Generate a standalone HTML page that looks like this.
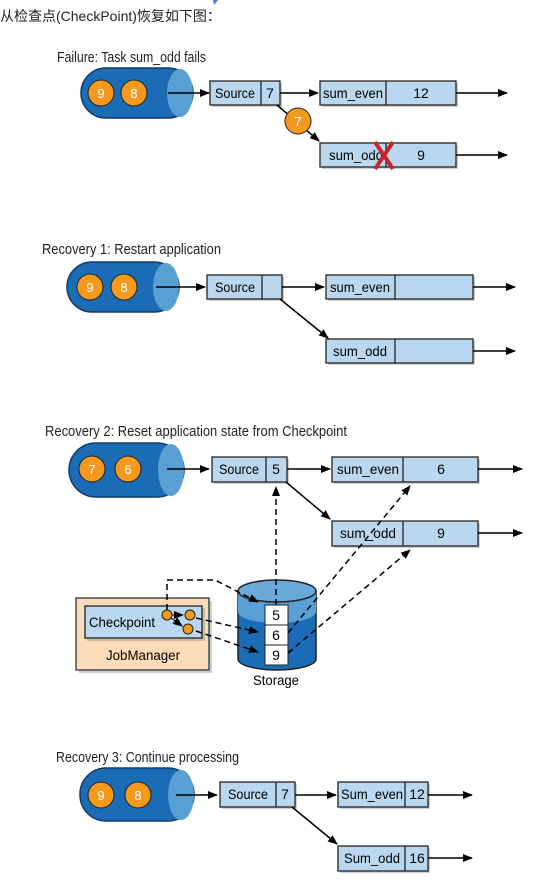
<!DOCTYPE html>
<html><head><meta charset="utf-8"><style>
html,body{margin:0;padding:0;background:#fff;}
svg{display:block;}
text{font-family:"Liberation Sans","Noto Sans CJK SC",sans-serif;}
</style></head><body>
<svg width="537" height="895" viewBox="0 0 537 895" xmlns="http://www.w3.org/2000/svg">
<defs>
<marker id="ar" markerWidth="10" markerHeight="8" refX="9" refY="4" orient="auto" markerUnits="userSpaceOnUse"><path d="M0,0 L10,4 L0,8 z" fill="#000"/></marker>
</defs>
<text x="0" y="21" font-size="14" fill="#222">从检查点(CheckPoint)恢复如下图：</text>
<path d="M213,0 L218,0 L214,5z" fill="#4a7fd0"/>

<!-- Section 1 -->
<text x="57" y="62" font-size="15" fill="#222" textLength="149" lengthAdjust="spacingAndGlyphs">Failure: Task sum_odd fails</text>
<rect x="81" y="68" width="112" height="50" rx="25" fill="#1a6cb6" stroke="#163a66" stroke-width="1.5"/>
<ellipse cx="180" cy="93" rx="13" ry="24" fill="#5a9fd4"/>
<circle cx="101" cy="93" r="13" fill="#f39a1e" stroke="#222"/><text x="101" y="98" font-size="13" fill="#fff" text-anchor="middle">9</text>
<circle cx="134" cy="93" r="13" fill="#f39a1e" stroke="#222"/><text x="134" y="98" font-size="13" fill="#fff" text-anchor="middle">8</text>
<line x1="168" y1="93" x2="209" y2="93" stroke="#000" stroke-width="1.5" marker-end="url(#ar)"/>
<rect x="212" y="83" width="70" height="24" fill="#888" opacity=".4"/>
<rect x="210" y="81" width="70" height="24" fill="#b9d8ef" stroke="#222" stroke-width="1.3"/>
<line x1="261" y1="81" x2="261" y2="105" stroke="#222" stroke-width="1.3"/>
<text x="235" y="98" font-size="14" text-anchor="middle" textLength="40" lengthAdjust="spacingAndGlyphs">Source</text><text x="270" y="98" font-size="14" text-anchor="middle">7</text>
<line x1="280" y1="93" x2="318" y2="93" stroke="#000" stroke-width="1.5" marker-end="url(#ar)"/>
<rect x="322" y="83" width="136" height="24" fill="#888" opacity=".4"/>
<rect x="320" y="81" width="136" height="24" fill="#b9d8ef" stroke="#222" stroke-width="1.3"/>
<line x1="386" y1="81" x2="386" y2="105" stroke="#222" stroke-width="1.3"/>
<text x="353" y="98" font-size="14" text-anchor="middle" textLength="60" lengthAdjust="spacingAndGlyphs">sum_even</text><text x="421" y="98" font-size="14" text-anchor="middle">12</text>
<line x1="456" y1="93" x2="507" y2="93" stroke="#000" stroke-width="1.5" marker-end="url(#ar)"/>
<line x1="277" y1="105" x2="319" y2="141" stroke="#000" stroke-width="1.5" marker-end="url(#ar)"/>
<circle cx="298" cy="121" r="13" fill="#f39a1e" stroke="#222"/><text x="298" y="126" font-size="13" fill="#fff" text-anchor="middle">7</text>
<rect x="322" y="145" width="136" height="24" fill="#888" opacity=".4"/>
<rect x="320" y="143" width="136" height="24" fill="#b9d8ef" stroke="#222" stroke-width="1.3"/>
<line x1="386" y1="143" x2="386" y2="167" stroke="#222" stroke-width="1.3"/>
<text x="356" y="160" font-size="14" text-anchor="middle" textLength="54" lengthAdjust="spacingAndGlyphs">sum_odd</text><text x="421" y="160" font-size="14" text-anchor="middle">9</text>
<path d="M375,142 L393,169 M393,142 L375,169" stroke="#c8262c" stroke-width="4"/>
<line x1="456" y1="155" x2="507" y2="155" stroke="#000" stroke-width="1.5" marker-end="url(#ar)"/>

<!-- Section 2 -->
<text x="42" y="254" font-size="15" fill="#222" textLength="179" lengthAdjust="spacingAndGlyphs">Recovery 1: Restart application</text>
<rect x="67" y="262" width="112" height="50" rx="25" fill="#1a6cb6" stroke="#163a66" stroke-width="1.5"/>
<ellipse cx="166" cy="287" rx="13" ry="24" fill="#5a9fd4"/>
<circle cx="90" cy="287" r="13" fill="#f39a1e" stroke="#222"/><text x="90" y="292" font-size="13" fill="#fff" text-anchor="middle">9</text>
<circle cx="124" cy="287" r="13" fill="#f39a1e" stroke="#222"/><text x="124" y="292" font-size="13" fill="#fff" text-anchor="middle">8</text>
<line x1="156" y1="287" x2="205" y2="287" stroke="#000" stroke-width="1.5" marker-end="url(#ar)"/>
<rect x="209" y="277" width="75" height="24" fill="#888" opacity=".4"/>
<rect x="207" y="275" width="75" height="24" fill="#b9d8ef" stroke="#222" stroke-width="1.3"/>
<line x1="262" y1="275" x2="262" y2="299" stroke="#222" stroke-width="1.3"/>
<text x="235" y="292" font-size="14" text-anchor="middle" textLength="40" lengthAdjust="spacingAndGlyphs">Source</text>
<line x1="282" y1="287" x2="324" y2="287" stroke="#000" stroke-width="1.5" marker-end="url(#ar)"/>
<rect x="328" y="277" width="147" height="24" fill="#888" opacity=".4"/>
<rect x="326" y="275" width="147" height="24" fill="#b9d8ef" stroke="#222" stroke-width="1.3"/>
<line x1="395" y1="275" x2="395" y2="299" stroke="#222" stroke-width="1.3"/>
<text x="360" y="292" font-size="14" text-anchor="middle" textLength="60" lengthAdjust="spacingAndGlyphs">sum_even</text>
<line x1="473" y1="287" x2="515" y2="287" stroke="#000" stroke-width="1.5" marker-end="url(#ar)"/>
<line x1="280" y1="299" x2="328" y2="338" stroke="#000" stroke-width="1.5" marker-end="url(#ar)"/>
<rect x="328" y="341" width="147" height="24" fill="#888" opacity=".4"/>
<rect x="326" y="339" width="147" height="24" fill="#b9d8ef" stroke="#222" stroke-width="1.3"/>
<line x1="395" y1="339" x2="395" y2="363" stroke="#222" stroke-width="1.3"/>
<text x="360" y="356" font-size="14" text-anchor="middle" textLength="54" lengthAdjust="spacingAndGlyphs">sum_odd</text>
<line x1="473" y1="351" x2="515" y2="351" stroke="#000" stroke-width="1.5" marker-end="url(#ar)"/>

<!-- Section 3 -->
<text x="45" y="436" font-size="15" fill="#222" textLength="302" lengthAdjust="spacingAndGlyphs">Recovery 2: Reset application state from Checkpoint</text>
<rect x="69" y="443" width="115" height="54" rx="27" fill="#1a6cb6" stroke="#163a66" stroke-width="1.5"/>
<ellipse cx="171" cy="470" rx="13" ry="26" fill="#5a9fd4"/>
<circle cx="92" cy="469" r="13" fill="#f39a1e" stroke="#222"/><text x="92" y="474" font-size="13" fill="#fff" text-anchor="middle">7</text>
<circle cx="128" cy="469" r="13" fill="#f39a1e" stroke="#222"/><text x="128" y="474" font-size="13" fill="#fff" text-anchor="middle">6</text>
<line x1="167" y1="469" x2="209" y2="469" stroke="#000" stroke-width="1.5" marker-end="url(#ar)"/>
<rect x="214" y="459" width="75" height="25" fill="#888" opacity=".4"/>
<rect x="212" y="457" width="75" height="25" fill="#b9d8ef" stroke="#222" stroke-width="1.3"/>
<line x1="266" y1="457" x2="266" y2="482" stroke="#222" stroke-width="1.3"/>
<text x="239" y="474" font-size="14" text-anchor="middle" textLength="40" lengthAdjust="spacingAndGlyphs">Source</text><text x="276" y="474" font-size="14" text-anchor="middle">5</text>
<line x1="287" y1="469" x2="330" y2="469" stroke="#000" stroke-width="1.5" marker-end="url(#ar)"/>
<rect x="334" y="459" width="146" height="25" fill="#888" opacity=".4"/>
<rect x="332" y="457" width="146" height="25" fill="#b9d8ef" stroke="#222" stroke-width="1.3"/>
<line x1="403" y1="457" x2="403" y2="482" stroke="#222" stroke-width="1.3"/>
<text x="368" y="474" font-size="14" text-anchor="middle" textLength="62" lengthAdjust="spacingAndGlyphs">sum_even</text><text x="441" y="474" font-size="14" text-anchor="middle">6</text>
<line x1="478" y1="469" x2="522" y2="469" stroke="#000" stroke-width="1.5" marker-end="url(#ar)"/>
<line x1="286" y1="482" x2="330" y2="519" stroke="#000" stroke-width="1.5" marker-end="url(#ar)"/>
<rect x="334" y="523" width="146" height="25" fill="#888" opacity=".4"/>
<rect x="332" y="521" width="146" height="25" fill="#b9d8ef" stroke="#222" stroke-width="1.3"/>
<line x1="403" y1="521" x2="403" y2="546" stroke="#222" stroke-width="1.3"/>
<text x="368" y="538" font-size="14" text-anchor="middle" textLength="56" lengthAdjust="spacingAndGlyphs">sum_odd</text><text x="441" y="538" font-size="14" text-anchor="middle">9</text>
<line x1="478" y1="533" x2="522" y2="533" stroke="#000" stroke-width="1.5" marker-end="url(#ar)"/>

<!-- storage -->
<path d="M238,591 L238,659 A39 11 0 0 0 316 659 L316,591" fill="#1a6cb6" stroke="#222" stroke-width="1.5"/>
<path d="M238,591 L238,612 A39 11 0 0 0 316 612 L316,591" fill="#5a9fd4"/>
<ellipse cx="277" cy="591" rx="39" ry="11" fill="#6aaadb" stroke="#222" stroke-width="1.5"/>
<rect x="265" y="605" width="23" height="20" fill="#fff" stroke="#222"/>
<rect x="265" y="625" width="23" height="20" fill="#fff" stroke="#222"/>
<rect x="265" y="645" width="23" height="20" fill="#fff" stroke="#222"/>
<text x="276" y="620" font-size="14" text-anchor="middle">5</text>
<text x="276" y="640" font-size="14" text-anchor="middle">6</text>
<text x="276" y="660" font-size="14" text-anchor="middle">9</text>
<text x="276" y="685" font-size="14" text-anchor="middle" textLength="46" lengthAdjust="spacingAndGlyphs">Storage</text>

<!-- jobmanager -->
<rect x="79" y="601" width="133" height="72" fill="#888" opacity=".4"/>
<rect x="76" y="598" width="133" height="72" fill="#fbdcb8" stroke="#333" stroke-width="1.3"/>
<rect x="87" y="608" width="118" height="33" fill="#888" opacity=".4"/>
<rect x="85" y="606" width="117" height="32" fill="#b9d8ef" stroke="#222" stroke-width="1.3"/>
<text x="122" y="627" font-size="14" text-anchor="middle" textLength="66" lengthAdjust="spacingAndGlyphs">Checkpoint</text>
<text x="143" y="660" font-size="14" text-anchor="middle" textLength="74" lengthAdjust="spacingAndGlyphs">JobManager</text>
<line x1="171" y1="615" x2="183" y2="615" stroke="#000" marker-end="url(#ar)"/>
<line x1="170" y1="617" x2="182" y2="626" stroke="#000" marker-end="url(#ar)"/>
<circle cx="167" cy="615" r="5" fill="#f39a1e" stroke="#222"/>
<circle cx="190" cy="615" r="5" fill="#f39a1e" stroke="#222"/>
<circle cx="188" cy="629" r="5" fill="#f39a1e" stroke="#222"/>

<g stroke="#000" stroke-width="1.5" stroke-dasharray="6,4" fill="none">
<path d="M167,610 L167,580 L215,580 L258,602" marker-end="url(#ar)"/>
<path d="M196,618 L258,632" marker-end="url(#ar)"/>
<path d="M196,631 L258,652" marker-end="url(#ar)"/>
<path d="M276,605 L276,487" marker-end="url(#ar)"/>
<path d="M288,633 L410,486" marker-end="url(#ar)"/>
<path d="M288,653 L410,550" marker-end="url(#ar)"/>
</g>

<!-- Section 4 -->
<text x="56" y="762" font-size="15" fill="#222" textLength="183" lengthAdjust="spacingAndGlyphs">Recovery 3: Continue processing</text>
<rect x="80" y="768" width="114" height="53" rx="26" fill="#1a6cb6" stroke="#163a66" stroke-width="1.5"/>
<ellipse cx="181" cy="795" rx="13" ry="25" fill="#5a9fd4"/>
<circle cx="101" cy="795" r="13" fill="#f39a1e" stroke="#222"/><text x="101" y="800" font-size="13" fill="#fff" text-anchor="middle">9</text>
<circle cx="138" cy="795" r="13" fill="#f39a1e" stroke="#222"/><text x="138" y="800" font-size="13" fill="#fff" text-anchor="middle">8</text>
<line x1="176" y1="795" x2="217" y2="795" stroke="#000" stroke-width="1.5" marker-end="url(#ar)"/>
<rect x="222" y="784" width="75" height="25" fill="#888" opacity=".4"/>
<rect x="220" y="782" width="75" height="25" fill="#b9d8ef" stroke="#222" stroke-width="1.3"/>
<line x1="276" y1="782" x2="276" y2="807" stroke="#222" stroke-width="1.3"/>
<text x="248" y="799" font-size="14" text-anchor="middle" textLength="40" lengthAdjust="spacingAndGlyphs">Source</text><text x="285" y="799" font-size="14" text-anchor="middle">7</text>
<line x1="295" y1="795" x2="336" y2="795" stroke="#000" stroke-width="1.5" marker-end="url(#ar)"/>
<rect x="340" y="784" width="90" height="25" fill="#888" opacity=".4"/>
<rect x="338" y="782" width="90" height="25" fill="#b9d8ef" stroke="#222" stroke-width="1.3"/>
<line x1="405" y1="782" x2="405" y2="807" stroke="#222" stroke-width="1.3"/>
<text x="372" y="799" font-size="14" text-anchor="middle" textLength="62" lengthAdjust="spacingAndGlyphs">Sum_even</text><text x="417" y="799" font-size="14" text-anchor="middle">12</text>
<line x1="428" y1="795" x2="472" y2="795" stroke="#000" stroke-width="1.5" marker-end="url(#ar)"/>
<line x1="292" y1="807" x2="337" y2="844" stroke="#000" stroke-width="1.5" marker-end="url(#ar)"/>
<rect x="340" y="848" width="90" height="25" fill="#888" opacity=".4"/>
<rect x="338" y="846" width="90" height="25" fill="#b9d8ef" stroke="#222" stroke-width="1.3"/>
<line x1="405" y1="846" x2="405" y2="871" stroke="#222" stroke-width="1.3"/>
<text x="372" y="863" font-size="14" text-anchor="middle" textLength="56" lengthAdjust="spacingAndGlyphs">Sum_odd</text><text x="417" y="863" font-size="14" text-anchor="middle">16</text>
<line x1="428" y1="858" x2="472" y2="858" stroke="#000" stroke-width="1.5" marker-end="url(#ar)"/>
</svg>
</body></html>
